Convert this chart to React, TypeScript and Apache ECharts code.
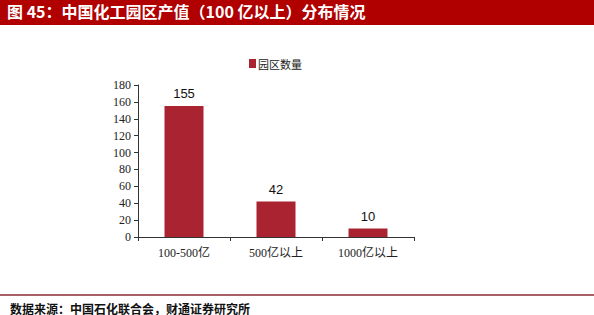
import React, { useEffect, useRef } from "react";
import * as echarts from "echarts";

const categories = ["100-500亿", "500亿以上", "1000亿以上"];
const parkCounts = [155, 42, 10];
const seriesName = "园区数量";
const titleText = "图 45：中国化工园区产值（100 亿以上）分布情况";
const sourceText = "数据来源：中国石化联合会，财通证券研究所";

export default function App() {
  const ref = useRef<HTMLDivElement>(null);
  useEffect(() => {
    if (!ref.current) return;
    const chart = echarts.init(ref.current, undefined, { renderer: "svg" });
    chart.setOption({
      animation: false,
      backgroundColor: "#ffffff",
      legend: {
        top: 53,
        left: 244,
        itemWidth: 7,
        itemHeight: 9,
        itemGap: 4,
        icon: "rect",
        textStyle: { fontSize: 11, color: "#222", fontFamily: "Noto Sans CJK SC", padding: [0, 0, 0, -3] },
        data: [seriesName],
      },
      grid: { left: 138, right: 180, top: 85, bottom: 78 },
      xAxis: {
        type: "category",
        data: categories,
        axisLine: { lineStyle: { color: "#333", width: 1 } },
        axisTick: { show: true, alignWithLabel: false, length: 4, lineStyle: { color: "#333" } },
        axisLabel: { fontSize: 12, color: "#222", fontFamily: "Liberation Serif, Noto Sans CJK SC, serif", margin: 10 },
      },
      yAxis: {
        type: "value",
        min: 0,
        max: 180,
        interval: 20,
        splitLine: { show: false },
        axisLine: { show: true, lineStyle: { color: "#333", width: 1 } },
        axisTick: { show: true, length: 4, lineStyle: { color: "#333" } },
        axisLabel: { fontSize: 12, color: "#222", fontFamily: "Liberation Serif, serif", margin: 7 },
      },
      series: [
        {
          name: seriesName,
          type: "bar",
          data: parkCounts,
          barWidth: 39,
          itemStyle: { color: "#AA2330" },
          label: {
            show: true,
            position: "top",
            distance: 6,
            fontSize: 13,
            color: "#111",
            fontFamily: "Liberation Sans, Arial, sans-serif",
          },
        },
      ],
      graphic: [
        { type: "rect", left: 0, top: 0, shape: { width: 594, height: 25 }, style: { fill: "#B00000" } },
        {
          type: "text",
          left: 7,
          top: 3,
          style: {
            text: titleText,
            fill: "#ffffff",
            font: "bold 16px 'Noto Sans CJK SC', sans-serif",
          },
        },
        {
          type: "line",
          shape: { x1: 0, y1: 295, x2: 594, y2: 295 },
          style: { stroke: "#8B2A35", lineWidth: 1.5 },
        },
        {
          type: "text",
          x: 10,
          y: 308,
          style: {
            text: sourceText,
            fill: "#111",
            font: "bold 12px 'Noto Sans CJK SC', sans-serif",
            verticalAlign: "middle",
          },
        },
      ],
    });
    return () => chart.dispose();
  }, []);
  return (
    <div
      ref={ref}
      style={{ position: "fixed", left: 0, top: 0, width: 594, height: 315 }}
    />
  );
}
